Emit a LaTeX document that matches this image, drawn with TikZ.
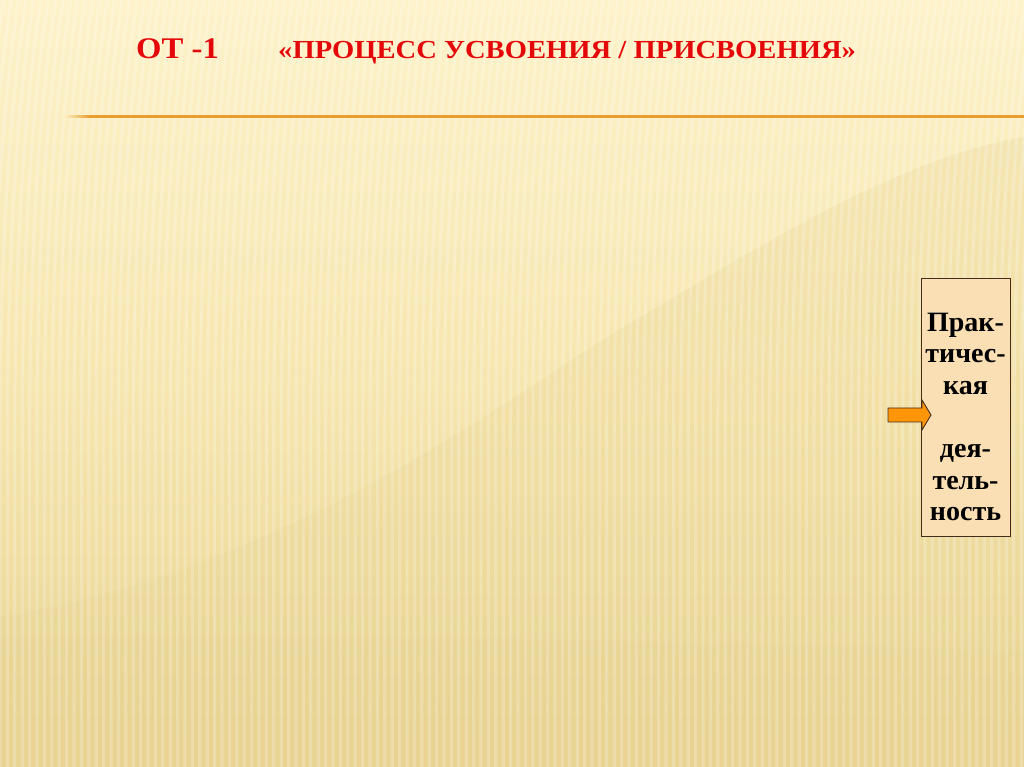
\documentclass[tikz,border=0pt]{standalone}
\usepackage{fontspec}
\setmainfont{Liberation Serif}
\definecolor{bgtop}{RGB}{253,242,202}
\definecolor{bgmid}{RGB}{246,230,175}
\definecolor{bgbot}{RGB}{232,211,146}
\definecolor{titlered}{RGB}{228,8,10}
\definecolor{rulecol}{RGB}{232,158,48}
\definecolor{boxfill}{RGB}{250,223,180}
\definecolor{boxline}{RGB}{70,45,25}
\definecolor{arrowfill}{RGB}{255,150,10}
\tikzset{
  titlebig/.style={text=titlered, inner sep=0pt, anchor=base west, font=\fontsize{30}{36}\selectfont\bfseries},
  titlemain/.style={text=titlered, inner sep=0pt, anchor=base west, font=\fontsize{26}{32}\selectfont\bfseries},
  boxline/.style={text=black, inner sep=0pt, anchor=base, font=\fontsize{28}{33}\selectfont\bfseries},
  framebox/.style={draw=boxline, fill=boxfill, line width=0.9pt, minimum width=89pt, minimum height=258pt, inner sep=0pt},
  stripe/.style={white, opacity=0.22, line width=3.2pt},
}
\begin{document}
\begin{tikzpicture}[x=1pt,y=1pt]
\useasboundingbox (0,0) rectangle (1024,767);
% background
\shade[top color=bgtop, bottom color=bgbot, middle color=bgmid] (0,0) rectangle (1024,767);
\fill[bgbot, opacity=0.28] (1024,630) .. controls (900,610) and (760,520) .. (640,450)
  .. controls (520,380) and (300,200) .. (0,150) -- (0,0) -- (1024,0) -- cycle;
\fill[bgbot, opacity=0.3] (0,130) .. controls (300,135) and (700,125) .. (1024,115) -- (1024,0) -- (0,0) -- cycle;
\foreach \i in {-5,...,140} {
  \draw[stripe] (\i*7.4,0) -- (\i*7.4,330) .. controls (\i*7.4,500) and (\i*7.4+8,650) .. (\i*7.4+26,767);
}
% rule
\fill[rulecol] (90,649) rectangle (1024,651.5);
\shade[left color=bgtop, right color=rulecol] (63,649) rectangle (90,651.5);
% title
\node[titlebig] (t1) at (136,708) {\scalebox{1.09}[1]{ОТ -1}};
\node[titlemain] (t2) at (278,708) {\scalebox{1.1}[1]{«ПРОЦЕСС УСВОЕНИЯ / ПРИСВОЕНИЯ»}};
% box
\node[framebox] (box) at (965.5,360) {};
\node[boxline] (l1) at (965.5,435.6) {Прак-};
\node[boxline] (l2) at (965.5,404) {тичес-};
\node[boxline] (l3) at (965.5,372.4) {кая};
\node[boxline] (l4) at (965.5,309.2) {дея-};
\node[boxline] (l5) at (965.5,277.6) {тель-};
\node[boxline] (l6) at (965.5,246) {ность};
% arrow
\filldraw[fill=arrowfill, draw=boxline, line width=0.9pt, line join=miter]
  (888,345) -- (888,359) -- (922,359) -- (922,367) -- (931,352) -- (922,337) -- (922,345) -- cycle;
\end{tikzpicture}
\end{document}
